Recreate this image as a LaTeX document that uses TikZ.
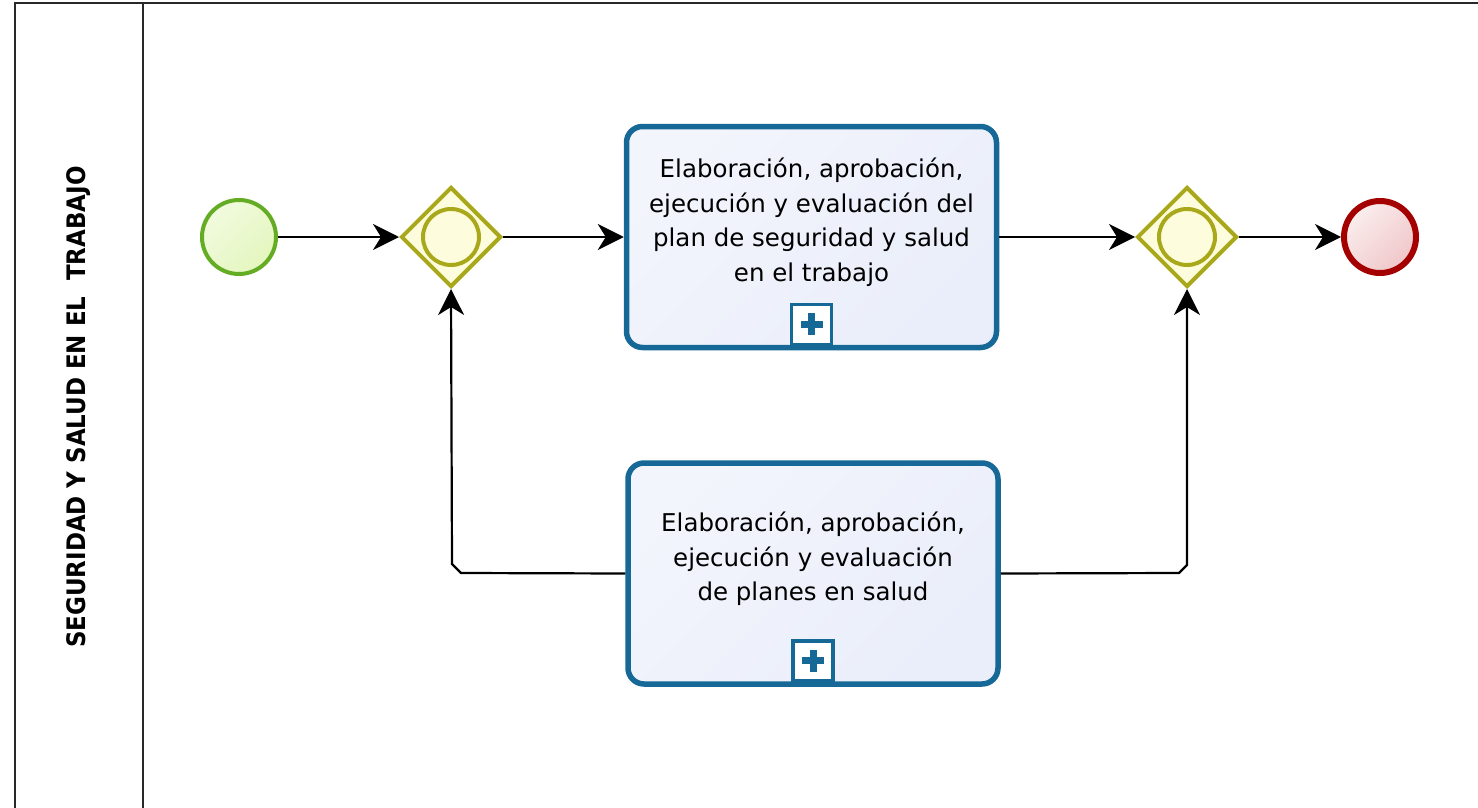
\documentclass[tikz,border=0pt]{standalone}
\usepackage{fontspec}
\setmainfont{DejaVu Sans}
\newfontfamily\lanefont{DejaVu Sans Condensed}
\usetikzlibrary{arrows.meta,shapes.geometric}
\definecolor{startc}{RGB}{100,172,36}
\definecolor{startf}{RGB}{228,246,190}
\definecolor{gwc}{RGB}{168,168,26}
\definecolor{gwf}{RGB}{253,253,222}
\definecolor{taskc}{RGB}{22,104,150}
\definecolor{taskf}{RGB}{234,238,250}
\definecolor{endc}{RGB}{165,0,0}
\definecolor{endf}{RGB}{240,198,200}
\definecolor{poolc}{RGB}{40,40,40}
\tikzset{
  pool/.style={draw=poolc,line width=2.6pt},
  startev/.style={circle,draw=startc,line width=4pt,minimum size=74pt,inner sep=0pt,
    shading=axis,top color=white!50!startf,bottom color=startf,shading angle=45},
  endev/.style={circle,draw=endc,line width=6pt,minimum size=72pt,inner sep=0pt,
    shading=axis,top color=white!70!endf,bottom color=endf,shading angle=45},
  gw/.style={diamond,draw=gwc,line width=4pt,minimum width=100pt,minimum height=100pt,inner sep=0pt,
    fill=gwf},
  gwring/.style={circle,draw=gwc,line width=4pt,minimum size=56pt,inner sep=0pt},
  taskbox/.style={draw=taskc,line width=5.5pt,rounded corners=16pt,minimum width=370pt,minimum height=221pt,
    shading=axis,top color=white!40!taskf,bottom color=taskf,shading angle=45,inner sep=0pt},
  tasktext/.style={align=center,font=\fontsize{24.5pt}{34.5pt}\selectfont},
  plusbox/.style={draw=taskc,line width=3.5pt,fill=white,minimum width=40pt,minimum height=40pt,inner sep=0pt},
  crossbar/.style={fill=taskc,draw=none,inner sep=0pt},
  flow/.style={draw=black,line width=2.2pt,-{Stealth[length=26pt,width=26pt,inset=8pt]}}
}
\begin{document}
\begin{tikzpicture}[x=1pt,y=-1pt]
\useasboundingbox (0,0) rectangle (1478,808);
% pool
\draw[pool] (1478,3) -- (15,3) -- (15,808);
\draw[pool] (143,3) -- (143,808);
\node[rotate=90,font=\lanefont\bfseries\fontsize{25.5pt}{28pt}\selectfont] (lane) at (79,407) {SEGURIDAD Y SALUD EN EL\ \ TRABAJO};
% events and gateways
\node[startev] (start) at (239,237) {};
\node[gw] (g1) at (451,237) {};
\node[gwring] (g1r) at (451,237) {};
\node[gw] (g2) at (1187,237) {};
\node[gwring] (g2r) at (1187,237) {};
\node[endev] (end) at (1380,237) {};
% tasks
\node[taskbox] (t1) at (811.5,237) {};
\node[tasktext] (t1txt) at (811.5,222) {Elaboración, aprobación,\\ejecución y evaluación del\\plan de seguridad y salud\\en el trabajo};
\node[plusbox,anchor=south] (p1) at (811.5,346) {};
\node[crossbar,minimum width=22pt,minimum height=7pt] (p1h) at (p1.center) {};
\node[crossbar,minimum width=7pt,minimum height=22pt] (p1v) at (p1.center) {};
\node[taskbox] (t2) at (813,573.5) {};
\node[tasktext] (t2txt) at (813,559) {Elaboración, aprobación,\\ejecución y evaluación\\de planes en salud};
\node[plusbox,anchor=south] (p2) at (813,682.5) {};
\node[crossbar,minimum width=22pt,minimum height=7pt] (p2h) at (p2.center) {};
\node[crossbar,minimum width=7pt,minimum height=22pt] (p2v) at (p2.center) {};
% flows
\draw[flow] (start.east) -- (g1.west);
\draw[flow] (g1.east) -- (t1.west);
\draw[flow] (t1.east) -- (g2.west);
\draw[flow] (g2.east) -- (end.west);
\coordinate (c1) at (461,573);
\coordinate (c2) at (452,564);
\coordinate (c3) at (1179,573);
\coordinate (c4) at (1187,565);
\draw[flow] (t2.west) -- (c1) -- (c2) -- (g1.south);
\draw[flow] (t2.east) -- (c3) -- (c4) -- (g2.south);
\end{tikzpicture}
\end{document}
